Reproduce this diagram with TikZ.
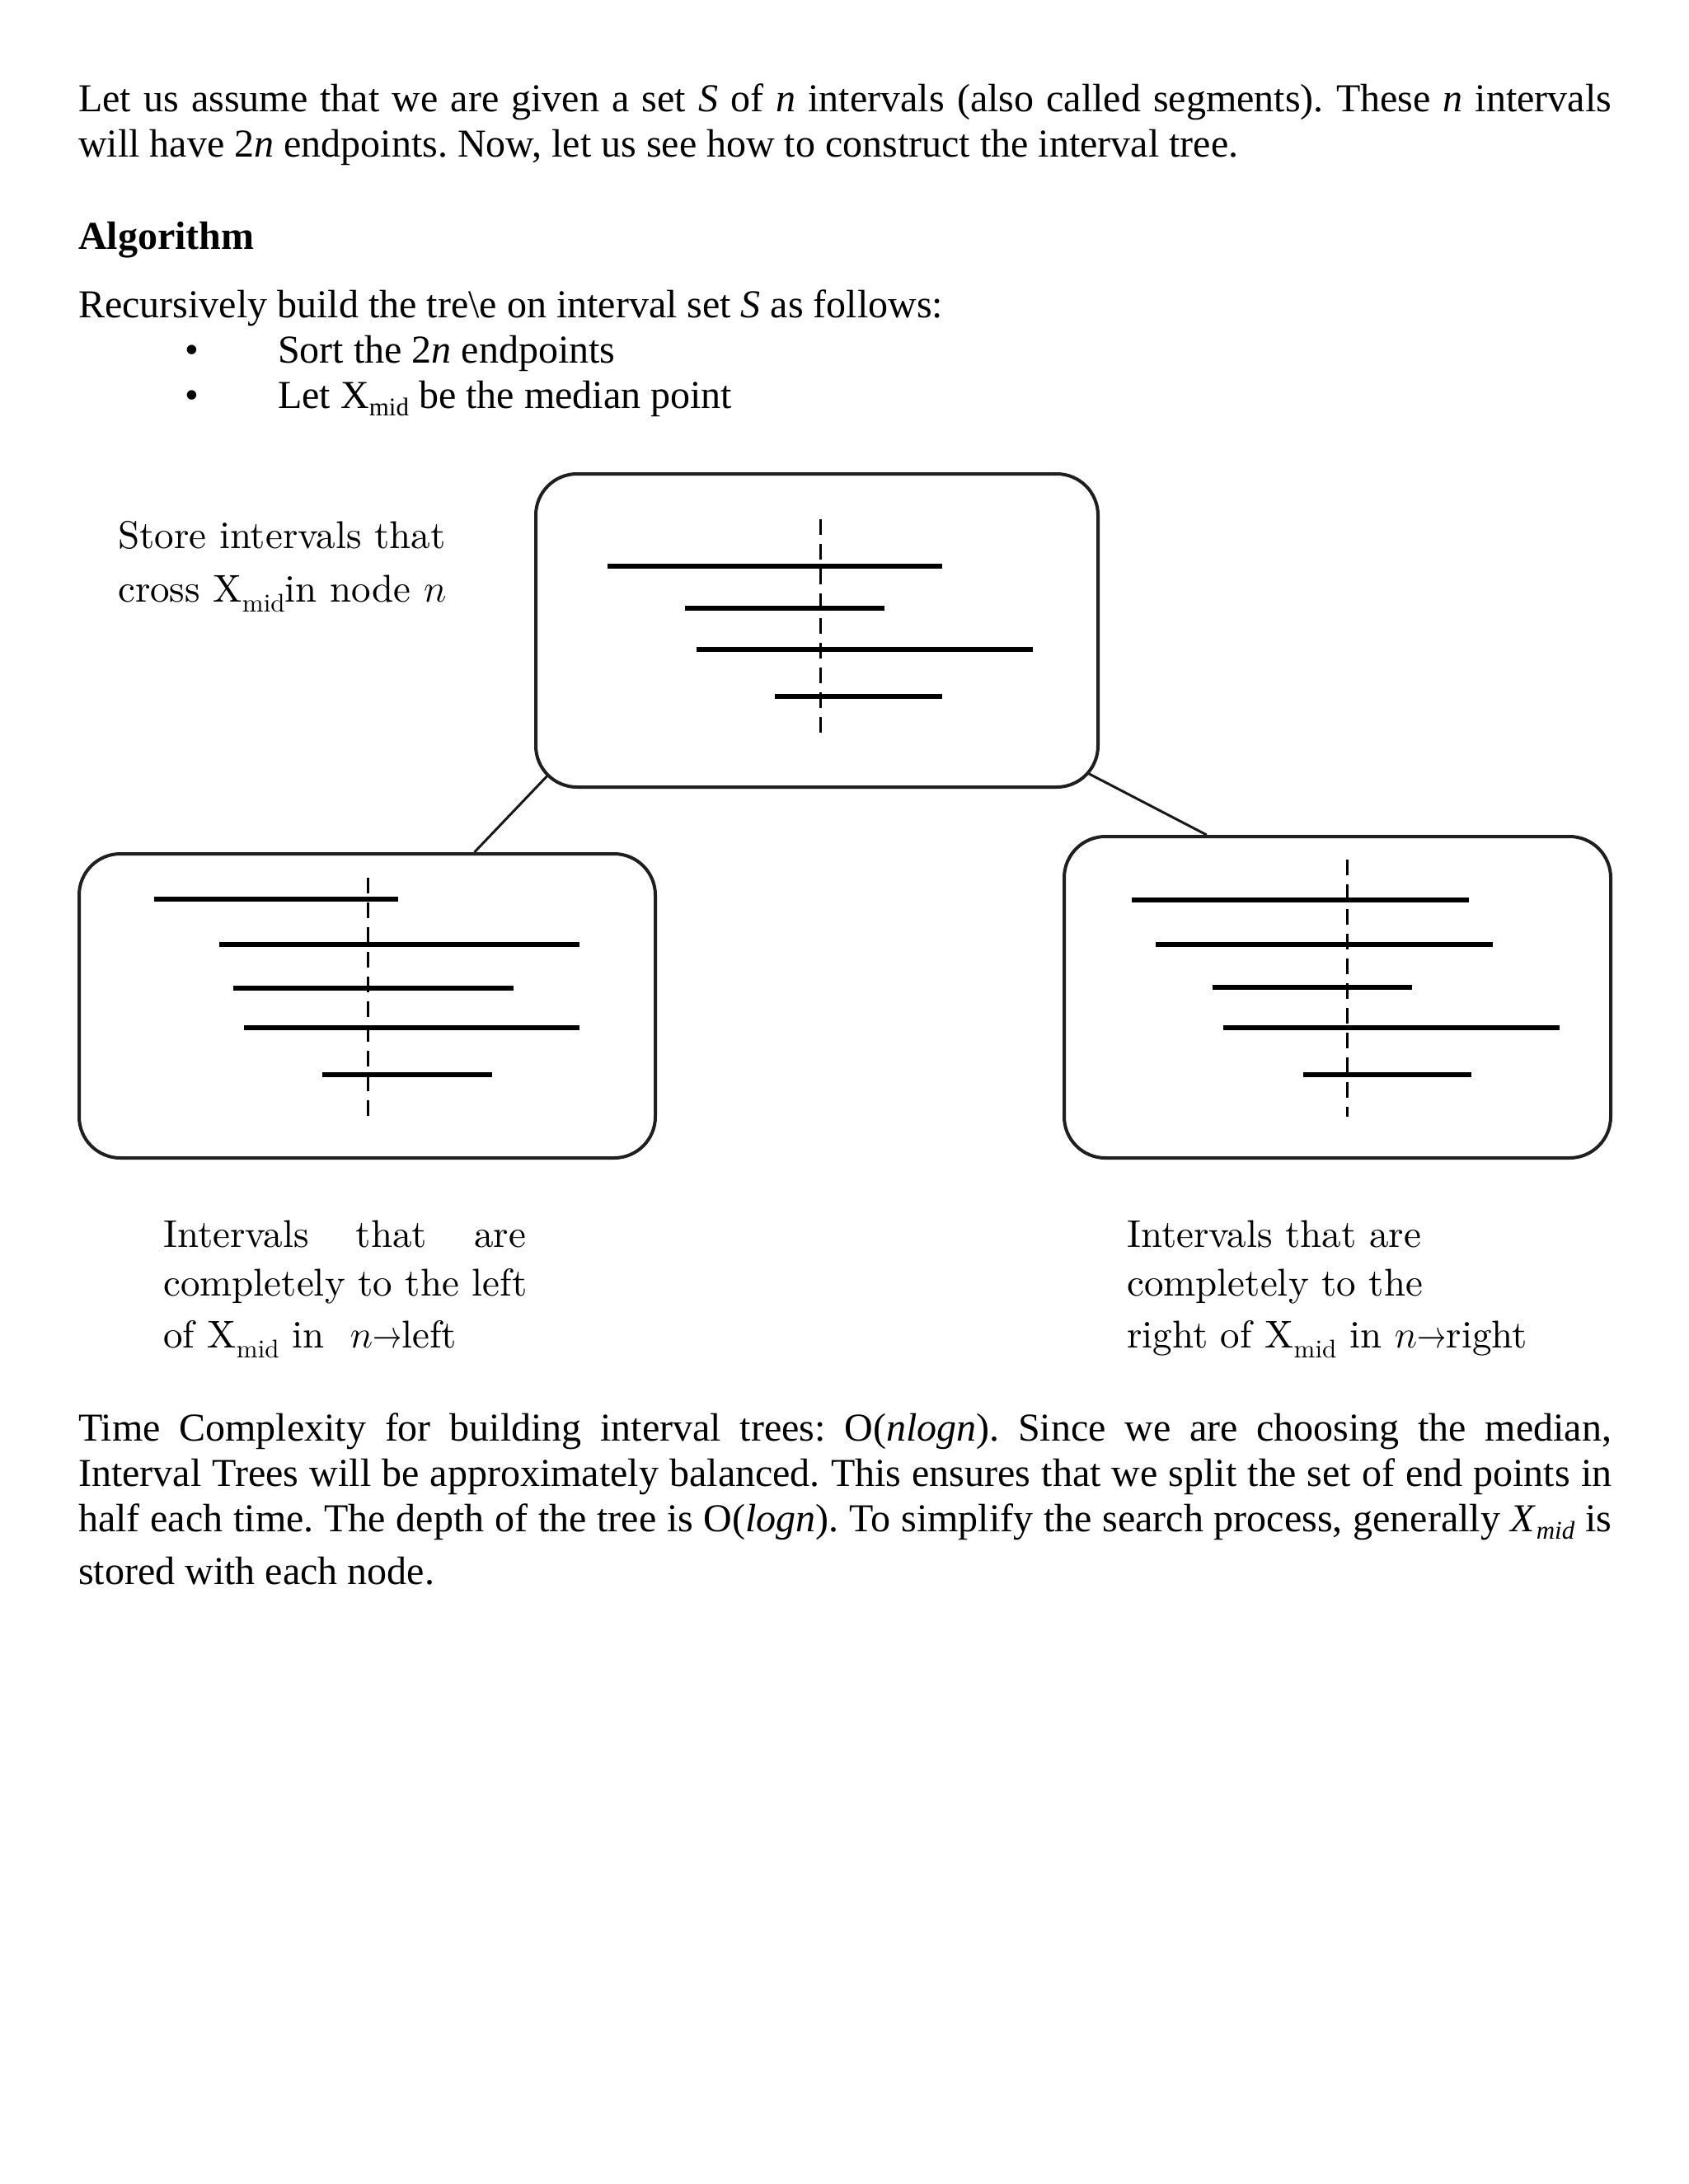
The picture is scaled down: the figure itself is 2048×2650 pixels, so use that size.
\RequirePackage{fix-cm}
\documentclass[tikz,border=0pt]{standalone}
\usepackage{graphicx}
\usepackage{fontspec}
\newfontfamily\tnr{Liberation Serif}
\newfontfamily\lmten{lmroman10-regular.otf}
\usetikzlibrary{calc,backgrounds}
\newcommand\bsub[1]{\raisebox{-9pt}{\fontsize{31}{31}\selectfont #1}}
\newcommand\lsub[1]{\raisebox{-12pt}{\fontsize{31}{31}\selectfont #1}}
\newcommand\sarr{\scalebox{0.75}[1]{$\rightarrow$}}
\begin{document}
\frenchspacing
\begin{tikzpicture}[x=1pt,y=-1pt,
  body/.style={font=\tnr\frenchspacing\fontsize{48}{55}\selectfont, anchor=base west, inner sep=0pt},
  bodybold/.style={font=\tnr\bfseries\fontsize{48}{55}\selectfont, anchor=base west, inner sep=0pt},
  lbl/.style={font=\lmten\fontsize{47}{60}\selectfont, text=black, anchor=base west, inner sep=0pt},
  box/.style={draw=black!88, line width=4pt, rounded corners=50pt, fill=white, inner sep=0pt},
  ival/.style={line width=5.5pt, black},
  midline/.style={line width=3pt, black, dash pattern=on 19pt off 11pt},
  conn/.style={line width=3pt, black!90}]
\useasboundingbox (0,0) rectangle (2048,2650);

% body text
\node[body] (p1a) at (95,135) {\makebox[1860pt][s]{Let us assume that we are given a set \textit{S} of \textit{n} intervals (also called segments). These \textit{n} intervals}};
\node[body] (p1b) at (95,190) {will have 2\textit{n} endpoints. Now, let us see how to construct the interval tree.};
\node[bodybold] (alg) at (95,302) {Algorithm};
\node[body] (rec) at (95,385) {Recursively build the tre\textbackslash e on interval set \textit{S} as follows:};
\node[body] (b1) at (224,440) {•};
\node[body] (s1) at (337,440) {Sort the 2\textit{n} endpoints};
\node[body] (b2) at (224,495) {•};
\node[body] (s2) at (337,495) {Let X\bsub{mid} be the median point};

% boxes
\node[box, minimum width=682pt, minimum height=380pt] (root) at (991,765) {};
\node[box, minimum width=699pt, minimum height=369pt] (lb) at (445.5,1220.5) {};
\node[box, minimum width=663pt, minimum height=390pt] (rb) at (1622.5,1210) {};

\begin{scope}[on background layer]
  \fill[white] (0,0) rectangle (2048,2650);
  \draw[conn] ($(root.south west)+(43,-44)$) -- ($(lb.north west)!0.685!(lb.north east)$);
  \draw[conn] ($(root.south east)+(-55,-40)$) -- ($(rb.north west)!0.262!(rb.north east)$);
\end{scope}

% root intervals
\draw[ival] (737,687) -- (1143,687);
\draw[ival] (831,738) -- (1073,738);
\draw[ival] (845,788) -- (1253,788);
\draw[ival] (940,845) -- (1143,845);
\draw[midline] (995,630) -- (995,893);

% left intervals
\draw[ival] (187,1091) -- (483,1091);
\draw[ival] (266,1146) -- (703,1146);
\draw[ival] (283,1199) -- (623,1199);
\draw[ival] (296,1247) -- (703,1247);
\draw[ival] (391,1304) -- (597,1304);
\draw[midline] (446,1065) -- (446,1355);

% right intervals
\draw[ival] (1373,1092) -- (1782,1092);
\draw[ival] (1402,1146) -- (1811,1146);
\draw[ival] (1471,1198) -- (1713,1198);
\draw[ival] (1484,1247) -- (1892,1247);
\draw[ival] (1581,1304) -- (1785,1304);
\draw[midline] (1634,1043) -- (1634,1355);

% labels
\node[lbl] (st1) at (143,665) {Store intervals that};
\node[lbl] (st2) at (143,730) {cross X\lsub{mid}in node $n$};
\node[lbl] (ll1) at (198,1513) {\makebox[440pt][s]{Intervals that are}};
\node[lbl] (ll2) at (198,1572) {completely to the left};
\node[lbl] (ll3) at (198,1635) {of X\lsub{mid} in\ \ $n$\sarr left};
\node[lbl] (rl1) at (1367,1513) {Intervals that are};
\node[lbl] (rl2) at (1367,1572) {completely to the};
\node[lbl] (rl3) at (1367,1635) {right of X\lsub{mid} in $n$\sarr right};

% bottom paragraph
\node[body] (q1) at (95,1748) {\makebox[1860pt][s]{Time Complexity for building interval trees: O(\textit{nlogn}). Since we are choosing the median,}};
\node[body] (q2) at (95,1803) {\makebox[1860pt][s]{Interval Trees will be approximately balanced. This ensures that we split the set of end points in}};
\node[body] (q3) at (95,1858) {\makebox[1860pt][s]{half each time. The depth of the tree is O(\textit{logn}). To simplify the search process, generally \textit{X}\bsub{\textit{mid}} is}};
\node[body] (q4) at (95,1922) {stored with each node.};
\end{tikzpicture}
\end{document}
